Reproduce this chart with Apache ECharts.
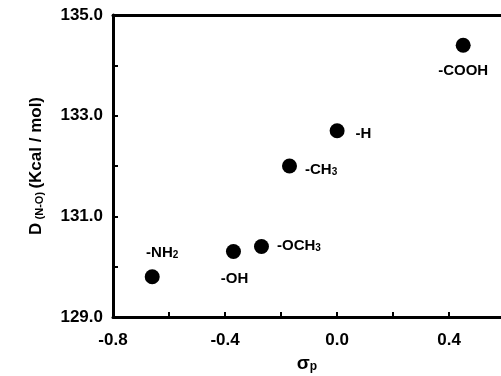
<!DOCTYPE html>
<html>
<head>
<meta charset="utf-8">
<script src="https://cdn.jsdelivr.net/npm/echarts@6/dist/echarts.min.js"></script>
<style>
  html, body {margin: 0; padding: 0; background: #fff;}
  #chart {width: 501px; height: 376px;}
</style>
</head>
<body>
<div id="chart"></div>
<script>
// 取代基常数 σp 与 N-O 键能
var groups = ['-NH2', '-OH', '-OCH3', '-CH3', '-H', '-COOH'];
var sigmaP = [-0.66, -0.37, -0.27, -0.17, 0.0, 0.45];
var bondD  = [129.8, 130.3, 130.4, 132.0, 132.7, 134.4];
var xTicks = [-0.8, -0.4, 0.0, 0.4];
var yTicks = [129.0, 131.0, 133.0, 135.0];

// 标签文字（带下标）和位置
var labelText = {
    '-NH2': '{t|-NH}{s|2}',
    '-OH': '{t|-OH}',
    '-OCH3': '{t|-OCH}{s|3}',
    '-CH3': '{t|-CH}{s|3}',
    '-H': '{t|-H}',
    '-COOH': '{t|-COOH}'
};
var labelPos = {
    '-NH2': {position: 'top', offset: [10, -4]},
    '-OH': {position: 'bottom', offset: [1, 7]},
    '-OCH3': {position: 'right', offset: [3, -1]},
    '-CH3': {position: 'right', offset: [3, 4]},
    '-H': {position: 'right', offset: [6, 3]},
    '-COOH': {position: 'bottom', offset: [0, 6]}
};

var font = 'Liberation Sans';
var richLabel = {
    t: {fontFamily: font, fontWeight: 'bold', fontSize: 15, color: '#000'},
    s: {fontFamily: font, fontWeight: 'bold', fontSize: 10, color: '#000', verticalAlign: 'bottom', padding: [5, 0, 0, 0]}
};

var points = sigmaP.map(function (x, i) {
    var g = groups[i];
    return {
        value: [x, bondD[i]],
        label: {
            show: true,
            position: labelPos[g].position,
            offset: labelPos[g].offset,
            formatter: labelText[g],
            rich: richLabel
        }
    };
});

function near(v, list) {
    return list.some(function (t) { return Math.abs(v - t) < 1e-6; });
}

var chart = echarts.init(document.getElementById('chart'));
var option = {
    animation: false,
    grid: {left: 113, right: 0, top: 15, bottom: 59, outerBoundsMode: 'none'},
    xAxis: [{
        type: 'value',
        min: -0.8,
        max: 0.585,
        interval: 0.2,
        splitLine: {show: false},
        axisLine: {onZero: false, lineStyle: {color: '#000', width: 3}},
        axisTick: {inside: true, length: 5, lineStyle: {color: '#000', width: 2}},
        axisLabel: {
            showMaxLabel: false,
            margin: 15,
            fontFamily: font, fontWeight: 'bold', fontSize: 17, color: '#000',
            formatter: function (v) { return near(v, xTicks) ? v.toFixed(1) : ''; }
        },
        name: '{t|σ}{s|p}',
        nameLocation: 'middle',
        nameGap: 34,
        nameTextStyle: {
            rich: {
                t: {fontFamily: font, fontWeight: 'bold', fontSize: 19, color: '#000'},
                s: {fontFamily: font, fontWeight: 'bold', fontSize: 12, color: '#000', verticalAlign: 'bottom', padding: [6, 0, 0, 0]}
            }
        }
    }, {
        type: 'value',
        position: 'top',
        min: -0.8,
        max: 0.585,
        splitLine: {show: false},
        axisLine: {onZero: false, lineStyle: {color: '#000', width: 3}},
        axisTick: {show: false},
        axisLabel: {show: false}
    }],
    yAxis: {
        type: 'value',
        min: 129,
        max: 135,
        interval: 1,
        splitLine: {show: false},
        axisLine: {onZero: false, lineStyle: {color: '#000', width: 3}},
        axisTick: {inside: true, length: 5, lineStyle: {color: '#000', width: 2}},
        axisLabel: {
            margin: 10,
            fontFamily: font, fontWeight: 'bold', fontSize: 17, color: '#000',
            formatter: function (v) { return near(v, yTicks) ? v.toFixed(1) : ''; }
        },
        name: '{t|D} {s|(N-O)} {t|(Kcal / mol)}',
        nameLocation: 'middle',
        nameRotate: 90,
        nameGap: 68,
        nameTextStyle: {
            rich: {
                t: {fontFamily: font, fontWeight: 'bold', fontSize: 17, color: '#000'},
                s: {fontFamily: font, fontWeight: 'bold', fontSize: 11, color: '#000', verticalAlign: 'bottom', padding: [6, 0, 0, 0]}
            }
        }
    },
    series: [{
        type: 'scatter',
        symbol: 'circle',
        symbolSize: 15,
        itemStyle: {color: '#000', opacity: 1},
        data: points
    }]
};
chart.setOption(option);
</script>
</body>
</html>
